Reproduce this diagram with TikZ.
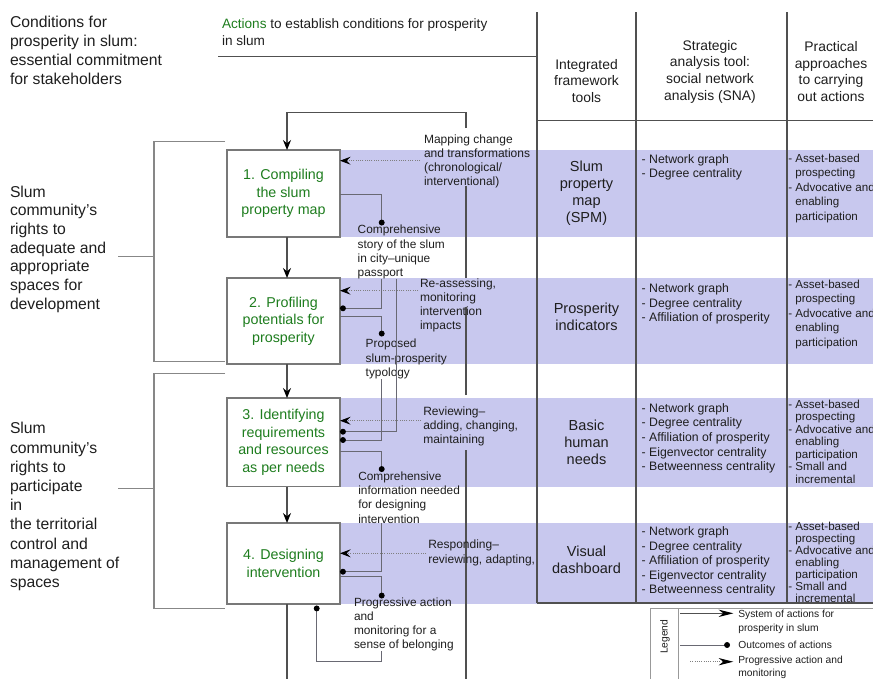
\documentclass[tikz,border=0pt]{standalone}
\usepackage{fontspec}
\setmainfont{Liberation Sans}
\usetikzlibrary{arrows.meta,calc}
\definecolor{bandc}{RGB}{200,200,238}
\definecolor{grn}{RGB}{30,125,30}
\definecolor{linec}{RGB}{80,80,80}
\definecolor{boxc}{RGB}{120,120,120}
\definecolor{outc}{RGB}{105,105,115}
\definecolor{brkc}{RGB}{135,135,135}
\definecolor{txtc}{RGB}{30,30,30}
\newcommand{\fsz}[2]{\fontsize{#1}{#2}\selectfont}
\newcommand{\myind}{\hphantom{-\ }}
\begin{document}
\begin{tikzpicture}[x=0.75pt,y=-0.75pt,
  every node/.style={inner sep=0pt,outer sep=0pt,text=txtc},
  lefttxt/.style={anchor=west,align=left,font=\fsz{11.8}{14.2}},
  stepbox/.style={draw=boxc,line width=0.9pt,fill=white,minimum width=84.75pt,align=center,text=grn,font=\fsz{10.7}{13.1}},
  mainline/.style={draw=linec,line width=0.9pt},
  mainarr/.style={mainline,-{Stealth[length=7.5pt,width=6pt,inset=2.5pt,color=black]}},
  prog/.style={draw=gray,densely dotted,line width=0.7pt,-{Stealth[length=8pt,width=6pt,inset=3pt,color=black]}},
  outl/.style={draw=outc,line width=0.75pt,-{Circle[length=4.4pt,color=black]}},
  ann/.style={anchor=west,align=left,font=\fsz{9}{10.7}},
  otxt/.style={anchor=west,align=left,font=\fsz{8.9}{10.7}},
  hdr/.style={align=center,font=\fsz{10.4}{12.5}},
  cone/.style={align=center,font=\fsz{10.9}{12.9}},
  ctwo/.style={anchor=west,align=left,font=\fsz{9.2}{10.9}},
  cthree/.style={anchor=west,align=left,font=\fsz{8.7}{10.9}},
  tbl/.style={draw=linec,line width=0.95pt},
  brk/.style={draw=brkc,line width=0.9pt},
  legl/.style={draw=gray!80,line width=0.75pt},
  legtxt/.style={anchor=west,align=left,font=\fsz{7.7}{10}}]
\path[use as bounding box] (0,0) rectangle (873,678);

% bands
\fill[bandc] (340,150) rectangle (873,237);
\fill[bandc] (340,278) rectangle (873,364);
\fill[bandc] (340,398) rectangle (873,486.5);
\fill[bandc] (340,523) rectangle (873,603.5);

% table lines
\draw[draw=linec,line width=1.4pt] (218,56.5) -- (537,56.5);
\draw[tbl] (537,12) -- (537,603);
\draw[tbl] (636,12) -- (636,603);
\draw[tbl] (787,12) -- (787,603);
\draw[tbl] (537,120.5) -- (873,120.5);
\draw[tbl] (537,603) -- (873,603);

% header texts
\node[lefttxt] (t1) at (10,50.5) {Conditions for\\prosperity in slum:\\essential commitment\\for stakeholders};
\node[anchor=west,align=left,font=\fsz{10.2}{12.5}] (act) at (222,32.3) {\textcolor{grn}{Actions} to establish conditions for prosperity\\in slum};
\node[hdr] (h1) at (586.5,81) {Integrated\\framework\\tools};
\node[hdr] (h2) at (710,71.7) {Strategic\\analysis tool:\\social network\\analysis (SNA)};
\node[hdr] (h3) at (831,71.7) {Practical\\approaches\\to carrying\\out actions};

% left texts and brackets
\node[lefttxt,font=\fsz{11.8}{14}] (t2) at (10,249) {Slum\\community's\\rights to\\adequate and\\appropriate\\spaces for\\development};
\node[lefttxt,font=\fsz{11.8}{14.4}] (t3) at (10,506.7) {Slum\\community's\\rights to\\participate\\in\\the territorial\\control and\\management of\\spaces};
\draw[brk] (225,141.7) -| (154,361.7) -- (225,361.7);
\draw[brk] (118,256.7) -- (154,256.7);
\draw[brk] (225,373.3) -| (154,608.3) -- (225,608.3);
\draw[brk] (118,488.3) -- (154,488.3);

% step boxes
\node[stepbox,minimum height=65.25pt] (b1) at (283.5,193.5) {1. Compiling\\the slum\\property map};
\node[stepbox,minimum height=64.5pt] (b2) at (283.5,321) {2. Profiling\\potentials for\\prosperity};
\node[stepbox,minimum height=66.4pt] (b3) at (283.5,442.3) {3. Identifying\\requirements\\and resources\\as per needs};
\node[stepbox,minimum height=60.75pt] (b4) at (283.5,563.5) {4. Designing\\intervention};

% main flow
\coordinate (ax) at (287,0);
\draw[mainarr] (b1.south -| ax) -- (b2.north -| ax);
\draw[mainarr] (b2.south -| ax) -- (b3.north -| ax);
\draw[mainarr] (b3.south -| ax) -- (b4.north -| ax);
\draw[mainline] (b4.south -| ax) -- (287,682);
\draw[mainarr] (466,682) -- (466,450) (466,395) -- (466,307) (466,278) -- (466,186) (466,128) -- (466,112.7) -- (287,112.7) -- (b1.north -| ax);

% annotations
\node[ann] (m1) at (424,161.3) {Mapping change\\and transformations\\(chronological/\\interventional)};
\node[ann] (m2) at (420,305.4) {Re-assessing,\\monitoring\\intervention\\impacts};
\node[ann] (m3) at (423.3,426.6) {Reviewing--\\adding, changing,\\maintaining};
\node[ann] (m4) at (428.3,552.9) {Responding--\\reviewing, adapting,};
\coordinate (p1) at (420,160.7);
\coordinate (p2) at (418,290.7);
\coordinate (p3) at (421,420.7);
\coordinate (p4) at (426,553.3);
\draw[prog] (p1) -- (p1 -| b1.east);
\draw[prog] (p2) -- (p2 -| b2.east);
\draw[prog] (p3) -- (p3 -| b3.east);
\draw[prog] (p4) -- (p4 -| b4.east);

% outcomes
\node[otxt] (o1) at (357.7,252.2) {Comprehensive\\story of the slum\\in city--unique\\passport};
\node[otxt] (o2) at (365.7,359) {Proposed\\slum-prosperity\\typology};
\node[otxt] (o3) at (358.3,497.5) {Comprehensive\\information needed\\for designing\\intervention};
\node[otxt] (o4) at (354,624.5) {Progressive action\\and\\monitoring for a\\sense of belonging};
\coordinate (cx1) at (381.7,0);
\coordinate (cx2) at (396.7,0);
\draw[outl] (b1.east |- 0,194) -| (cx1 |- 0,225.5);
\draw[outl] (o1.south -| cx1) |- (b2.east |- 0,308.3);
\draw[outl] (o1.south -| cx2) |- (b3.east |- 0,431.7);
\draw[outl] (b2.east |- 0,316.7) -| (cx1 |- 0,336.5);
\draw[outl] (o2.south -| cx1) |- (b3.east |- 0,440);
\draw[outl] (b3.east |- 0,451.7) -| (cx1 |- 0,472);
\draw[outl] (o3.south -| cx1) |- (b4.east |- 0,571.7);
\draw[outl] (b4.east |- 0,576.7) -| (cx1 |- 0,598.5);
\draw[outl] (o4.south -| cx1) |- (316.7,661.7) -- (316.7,605.5);

% table contents
\node[cone] (r1a) at (586.5,193.3) {Slum\\property\\map\\(SPM)};
\node[ctwo] (r1b) at (641.7,167.5) {- Network graph\\- Degree centrality};
\node[cthree] (r1c) at (788.3,188.3) {- Asset-based\\\myind prospecting\\- Advocative and\\\myind enabling\\\myind participation};

\node[cone] (r2a) at (586.5,316.7) {Prosperity\\indicators};
\node[ctwo] (r2b) at (641.7,303.9) {- Network graph\\- Degree centrality\\- Affiliation of prosperity};
\node[cthree] (r2c) at (788.3,314.2) {- Asset-based\\\myind prospecting\\- Advocative and\\\myind enabling\\\myind participation};

\node[cone] (r3a) at (586.5,442) {Basic\\human\\needs};
\node[ctwo] (r3b) at (641.7,438.3) {- Network graph\\- Degree centrality\\- Affiliation of prosperity\\- Eigenvector centrality\\- Betweenness centrality};
\node[cthree,font=\fsz{8.7}{9.4}] (r3c) at (788.3,441.7) {- Asset-based\\\myind prospecting\\- Advocative and\\\myind enabling\\\myind participation\\- Small and\\\myind incremental};

\node[cone] (r4a) at (586.5,559.5) {Visual\\dashboard};
\node[ctwo] (r4b) at (641.7,561.7) {- Network graph\\- Degree centrality\\- Affiliation of prosperity\\- Eigenvector centrality\\- Betweenness centrality};
\node[cthree,font=\fsz{8.7}{8.95}] (r4c) at (788.3,562.5) {- Asset-based\\\myind prospecting\\- Advocative and\\\myind enabling\\\myind participation\\- Small and\\\myind incremental};

% legend
\draw[legl] (650,608.3) -- (873,608.3);
\draw[legl] (650,608.3) -- (650,680);
\draw[legl] (678.3,608.3) -- (678.3,680);
\node[rotate=90,font=\fsz{7.7}{9}] (lg) at (665,636.7) {Legend};
\coordinate (l1a) at (680,613.3);
\coordinate (l1b) at (733.3,613.3);
\coordinate (l2a) at (680,645);
\coordinate (l2b) at (730,645);
\coordinate (l3a) at (690,661.7);
\coordinate (l3b) at (733.3,661.7);
\draw[mainline,-{Stealth[length=11pt,width=5.5pt,inset=3.5pt,color=black]}] (l1a) -- (l1b);
\draw[outl] (l2a) -- (l2b);
\draw[prog,-{Stealth[length=11pt,width=5.5pt,inset=3.5pt,color=black]}] (l3a) -- (l3b);
\node[legtxt] (lt1) at (738.3,621.7) {System of actions for\\prosperity in slum};
\node[legtxt] (lt2) at (738.3,645) {Outcomes of actions};
\node[legtxt] (lt3) at (738.3,667.5) {Progressive action and\\monitoring};
\end{tikzpicture}
\end{document}
